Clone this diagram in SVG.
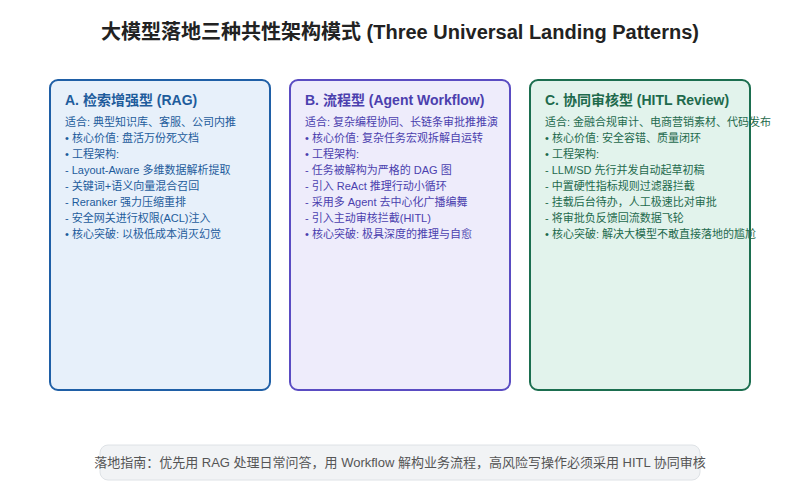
<svg xmlns="http://www.w3.org/2000/svg" width="800" height="500" viewBox="0 0 800 500">
<style>
text{font-family:"Liberation Sans","Noto Sans CJK SC",sans-serif;}
.title{font-size:20px;font-weight:bold;fill:#222;}
.hd{font-size:14px;font-weight:bold;}
.ln{font-size:11px;}
.box{stroke-width:2;}
.a .box{fill:#e7f0fa;stroke:#1f5fa6;}
.a text{fill:#1e5c9c;}
.b .box{fill:#eeecfb;stroke:#5a4cc2;}
.b text{fill:#4b3fae;}
.c .box{fill:#e2f3ec;stroke:#1b6e4f;}
.c text{fill:#1e6a4c;}
.foot{fill:#f1f3f5;stroke:#dee2e6;stroke-width:1;}
.ft{font-size:13px;fill:#555;}
</style>
<rect width="800" height="500" fill="#ffffff"/>
<text class="title" x="400" y="39" text-anchor="middle">大模型落地三种共性架构模式 (Three Universal Landing Patterns)</text>
<g id="nodeA" class="a">
<rect class="box" x="50" y="80" width="220" height="310" rx="8"/>
<text class="hd" x="65" y="105">A. 检索增强型 (RAG)</text>
<text class="ln" x="65" y="126">适合: 典型知识库、客服、公司内推</text>
<text class="ln" x="65" y="142">• 核心价值: 盘活万份死文档</text>
<text class="ln" x="65" y="158">• 工程架构:</text>
<text class="ln" x="65" y="174">- Layout-Aware 多维数据解析提取</text>
<text class="ln" x="65" y="190">- 关键词+语义向量混合召回</text>
<text class="ln" x="65" y="206">- Reranker 强力压缩重排</text>
<text class="ln" x="65" y="222">- 安全网关进行权限(ACL)注入</text>
<text class="ln" x="65" y="238">• 核心突破: 以极低成本消灭幻觉</text>
</g>
<g id="nodeB" class="b">
<rect class="box" x="290" y="80" width="220" height="310" rx="8"/>
<text class="hd" x="305" y="105">B. 流程型 (Agent Workflow)</text>
<text class="ln" x="305" y="126">适合: 复杂编程协同、长链条审批推推演</text>
<text class="ln" x="305" y="142">• 核心价值: 复杂任务宏观拆解自运转</text>
<text class="ln" x="305" y="158">• 工程架构:</text>
<text class="ln" x="305" y="174">- 任务被解构为严格的 DAG 图</text>
<text class="ln" x="305" y="190">- 引入 ReAct 推理行动小循环</text>
<text class="ln" x="305" y="206">- 采用多 Agent 去中心化广播编舞</text>
<text class="ln" x="305" y="222">- 引入主动审核拦截(HITL)</text>
<text class="ln" x="305" y="238">• 核心突破: 极具深度的推理与自愈</text>
</g>
<g id="nodeC" class="c">
<rect class="box" x="530" y="80" width="220" height="310" rx="8"/>
<text class="hd" x="545" y="105">C. 协同审核型 (HITL Review)</text>
<text class="ln" x="545" y="126">适合: 金融合规审计、电商营销素材、代码发布</text>
<text class="ln" x="545" y="142">• 核心价值: 安全容错、质量闭环</text>
<text class="ln" x="545" y="158">• 工程架构:</text>
<text class="ln" x="545" y="174">- LLM/SD 先行并发自动起草初稿</text>
<text class="ln" x="545" y="190">- 中置硬性指标规则过滤器拦截</text>
<text class="ln" x="545" y="206">- 挂载后台待办，人工极速比对审批</text>
<text class="ln" x="545" y="222">- 将审批负反馈回流数据飞轮</text>
<text class="ln" x="545" y="238">• 核心突破: 解决大模型不敢直接落地的尴尬</text>
</g>
<g id="connectors"></g>
<g id="footer">
<rect class="foot" x="100" y="445" width="600" height="35" rx="8"/>
<text class="ft" x="400" y="467" text-anchor="middle">落地指南：优先用 RAG 处理日常问答，用 Workflow 解构业务流程，高风险写操作必须采用 HITL 协同审核</text>
</g>
</svg>
